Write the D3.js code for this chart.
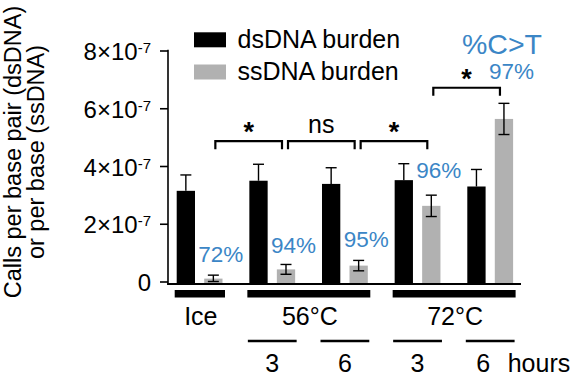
<!DOCTYPE html>
<html>
<head>
<meta charset="utf-8">
<script src="https://cdn.jsdelivr.net/npm/d3@7/dist/d3.min.js"></script>
<style>
  html, body { margin: 0; padding: 0; background: #fff; }
  svg { display: block; font-family: "Liberation Sans", Arial, Helvetica, sans-serif; }
</style>
</head>
<body>
<svg id="chart" width="584" height="390"></svg>
<script>
// ---- data (values in units of 1e-7) ----
const conditions = ["Ice", "56°C 3h", "56°C 6h", "72°C 3h", "72°C 6h"];
const series = ["dsDNA burden", "ssDNA burden"];
const dsValues = [3.14, 3.49, 3.38, 3.51, 3.29];
const dsErrors = [0.55, 0.57, 0.56, 0.57, 0.59];
const ssValues = [0.10, 0.42, 0.55, 2.62, 5.63];
const ssErrors = [0.12, 0.17, 0.18, 0.37, 0.54];
const pctLabels = ["72%", "94%", "95%", "96%", "97%"];
const pctLevels = [0.69, 1.0, 1.21, 3.6, 7.0];
const yTicks = [0, 2, 4, 6, 8];
const yExponent = "-7";
const tempLabels = ["Ice", "56°C", "72°C"];
const tempSpans = [[0, 0], [1, 2], [3, 4]];
const hourLabels = [null, "3", "6", "3", "6"];
const hourUnit = "hours";
const sigPairs = [[0, 1], [1, 2], [2, 3], [3, 4]];
const sigLabels = ["*", "ns", "*", "*"];
const sigLevels = [4.86, 4.86, 4.86, 6.71];
const pctTitle = "%C>T";
const yTitle = ["Calls per base pair (dsDNA)", "or per base (ssDNA)"];

const colors = { ds: "#000000", ss: "#b1b1b1", pct: "#3b86c6" };

const svg = d3.select("#chart");

const y = d3.scaleLinear().domain([0, 8]).range([281.5, 50.5]);
const x = d3.scaleBand().domain(conditions).range([176.7, 513.1])
  .paddingInner(0.3696).paddingOuter(0);
const xs = d3.scaleBand().domain(["ds", "ss"]).range([0, x.bandwidth()])
  .paddingInner(0.3345).paddingOuter(0);
const bw = xs.bandwidth();

// ---- y axis ----
const yAxis = d3.axisLeft(y).tickValues(yTicks).tickSize(8).tickPadding(9);
const gy = svg.append("g").attr("transform", "translate(168,0)").call(yAxis);
gy.select(".domain").remove();
gy.selectAll(".tick line").attr("stroke", "#000").attr("stroke-width", 1.6);
gy.selectAll(".tick text").each(function(d) {
  const t = d3.select(this);
  t.text(null).attr("font-size", 24).attr("fill", "#000").attr("dy", "0.38em")
    .attr("font-family", '"Liberation Sans", Arial, sans-serif');
  if (d === 0) { t.text("0"); return; }
  t.append("tspan").text(d + "×10");
  t.append("tspan").attr("font-size", 15).attr("dy", -7).text(yExponent);
});
svg.append("line").attr("x1", 168).attr("x2", 168)
  .attr("y1", y(8) - 0.8).attr("y2", 285)
  .attr("stroke", "#000").attr("stroke-width", 1.6);
// x axis baseline
svg.append("line").attr("x1", 167.2).attr("x2", 521)
  .attr("y1", 284).attr("y2", 284)
  .attr("stroke", "#000").attr("stroke-width", 2);

// y title
const yt = svg.append("text").attr("transform", "translate(0,152) rotate(-90)")
  .attr("text-anchor", "middle").attr("font-size", 23.5).attr("fill", "#000");
yt.append("tspan").attr("x", 0).attr("y", 21).text(yTitle[0]);
yt.append("tspan").attr("x", 0).attr("y", 44).text(yTitle[1]);

// ---- bars ----
const rows = conditions.map((c, i) => ({ c, i, ds: dsValues[i], dse: dsErrors[i], ss: ssValues[i], sse: ssErrors[i] }));

svg.append("g").selectAll("rect").data(rows).join("rect")
  .attr("x", d => x(d.c) + xs("ds")).attr("width", bw)
  .attr("y", d => y(d.ds)).attr("height", d => y(0) - y(d.ds) + 1.5)
  .attr("fill", colors.ds);
svg.append("g").selectAll("rect").data(rows).join("rect")
  .attr("x", d => x(d.c) + xs("ss")).attr("width", bw)
  .attr("y", d => y(d.ss)).attr("height", d => y(0) - y(d.ss) + 1.5)
  .attr("fill", colors.ss);

// error bars
const eb = svg.append("g").attr("stroke", "#000").attr("stroke-width", 1.4).attr("fill", "none");
const cap = 5.5;
rows.forEach(d => {
  const cx = x(d.c) + xs("ds") + bw / 2;
  eb.append("line").attr("x1", cx).attr("x2", cx).attr("y1", y(d.ds)).attr("y2", y(d.ds + d.dse));
  eb.append("line").attr("x1", cx - cap).attr("x2", cx + cap).attr("y1", y(d.ds + d.dse)).attr("y2", y(d.ds + d.dse));
  const sx = x(d.c) + xs("ss") + bw / 2;
  const lo = Math.max(0, d.ss - d.sse);
  eb.append("line").attr("x1", sx).attr("x2", sx).attr("y1", y(lo)).attr("y2", y(d.ss + d.sse));
  eb.append("line").attr("x1", sx - cap).attr("x2", sx + cap).attr("y1", y(d.ss + d.sse)).attr("y2", y(d.ss + d.sse));
  eb.append("line").attr("x1", sx - cap).attr("x2", sx + cap).attr("y1", y(lo)).attr("y2", y(lo));
});

// percentage labels
svg.append("g").selectAll("text").data(rows).join("text")
  .attr("x", d => x(d.c) + xs("ss") + bw / 2 + 7.5)
  .attr("y", d => y(pctLevels[d.i]))
  .attr("text-anchor", "middle").attr("font-size", 22.5).attr("fill", colors.pct)
  .text(d => pctLabels[d.i]);
svg.append("text").attr("x", 502).attr("y", 54.3).attr("text-anchor", "middle")
  .attr("font-size", 28.5).attr("fill", colors.pct).text(pctTitle);

// significance brackets
const sg = svg.append("g");
sigPairs.forEach((p, k) => {
  const x1 = x(conditions[p[0]]) + xs("ss") + bw / 2 + 2;
  const x2 = x(conditions[p[1]]) + xs("ss") + bw / 2 - 4;
  const yy = y(sigLevels[k]);
  sg.append("path").attr("d", `M${x1},${yy + 8}V${yy}H${x2}V${yy + 8}`)
    .attr("fill", "none").attr("stroke", "#000").attr("stroke-width", 2.2);
  const lbl = sigLabels[k];
  if (lbl === "*") {
    sg.append("text").attr("x", (x1 + x2) / 2).attr("y", yy - 0)
      .attr("text-anchor", "middle").attr("font-size", 27).attr("font-weight", "bold").text(lbl);
  } else {
    sg.append("text").attr("x", (x1 + x2) / 2).attr("y", yy - 8.5)
      .attr("text-anchor", "middle").attr("font-size", 25).text(lbl);
  }
});

// legend
const lg = svg.append("g");
[["ds", 32.3, 47.7], ["ss", 64.5, 80]].forEach((s, i) => {
  lg.append("rect").attr("x", 194).attr("y", s[1]).attr("width", 32).attr("height", 15).attr("fill", colors[s[0]]);
  lg.append("text").attr("x", 237.5).attr("y", s[2]).attr("font-size", 25).text(series[i]);
});

// bottom condition annotations
const bg = svg.append("g");
tempSpans.forEach((s, k) => {
  const a = x(conditions[s[0]]) + xs("ds") - 2;
  const b = x(conditions[s[1]]) + xs("ss") + bw + 2.5;
  bg.append("rect").attr("x", a).attr("y", 290).attr("width", b - a).attr("height", 7.5).attr("fill", "#000");
  bg.append("text").attr("x", (a + b) / 2 + 1).attr("y", 325).attr("text-anchor", "middle")
    .attr("font-size", 25).text(tempLabels[k]);
});
hourLabels.forEach((h, i) => {
  if (!h) return;
  const a = x(conditions[i]) + xs("ds") - 1.5;
  const b = x(conditions[i]) + xs("ss") + bw + 1.5;
  bg.append("line").attr("x1", a).attr("x2", b).attr("y1", 341).attr("y2", 341)
    .attr("stroke", "#000").attr("stroke-width", 2.4);
  const last = i === hourLabels.length - 1;
  bg.append("text").attr("x", (a + b) / 2 - (last ? 7 : 0)).attr("y", 372)
    .attr("text-anchor", "middle").attr("font-size", 25).text(h);
  if (last) {
    bg.append("text").attr("x", (a + b) / 2 + 17.5).attr("y", 372)
      .attr("font-size", 25).text(hourUnit);
  }
});
</script>
</body>
</html>
